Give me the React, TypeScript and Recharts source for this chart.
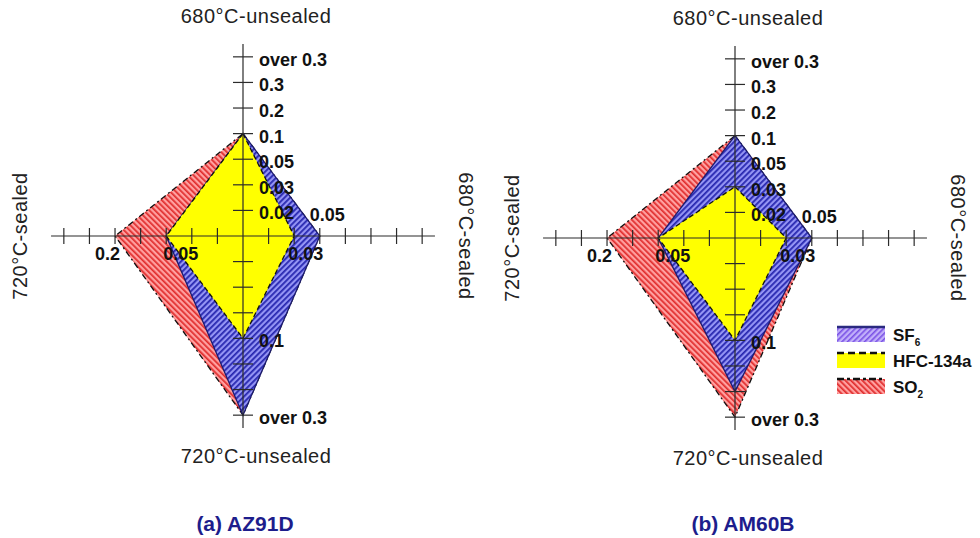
import React from "react";
import { RadarChart, Radar, PolarAngleAxis, PolarRadiusAxis, Legend } from "recharts";

// spokes, clockwise from the top
const axisNames = ["680°C-unsealed", "680°C-sealed", "720°C-unsealed", "720°C-sealed"];

// ordinal scale shared by every spoke (index = steps from the centre)
const levelLabels = ["", "0.02", "0.03", "0.05", "0.1", "0.2", "0.3", "over 0.3"];

// tick labels printed on each spoke
const topLabels = ["0.02", "0.03", "0.05", "0.1", "0.2", "0.3", "over 0.3"];
const rightLabels = ["0.03", "0.05"];
const bottomLabels = ["0.1", "over 0.3"];
const leftLabels = ["0.2", "0.05"];

// (a) AZ91D, one value per spoke in axisNames order
const az91dSF6 = ["0.1", "0.05", "over 0.3", "0.05"];
const az91dHFC = ["0.1", "0.03", "0.1", "0.05"];
const az91dSO2 = ["0.1", "0.05", "over 0.3", "0.2"];

// (b) AM60B
const am60bSF6 = ["0.1", "0.05", "0.3", "0.05"];
const am60bHFC = ["0.03", "0.03", "0.1", "0.05"];
const am60bSO2 = ["0.1", "0.05", "over 0.3", "0.2"];

const AXIS_MAX = 7.5;
const FONT = "'Liberation Sans', Arial, Helvetica, sans-serif";
const INK = "#2b2b2b";

const lvl = (v: string) => levelLabels.indexOf(v);

const buildRows = (sf6: string[], hfc: string[], so2: string[]) =>
  axisNames.map((axis, i) => ({ axis, sf6: lvl(sf6[i]), hfc: lvl(hfc[i]), so2: lvl(so2[i]) }));

const tickLevels = [...levelLabels.map((_, i) => i), AXIS_MAX];

// label nudges for the side spokes
const sideOffsets: Record<string, [number, number]> = {
  "right:0.03": [-6, 24],
  "right:0.05": [-10, -15],
  "left:0.2": [-20, 24],
  "left:0.05": [-3, 24],
};

type Side = "top" | "right" | "bottom" | "left";

const makeTick = (side: Side, shown: string[]) => (props: any) => {
  const { x, y, payload } = props;
  const v = payload?.value;
  if (!Number.isInteger(v) || v < 1) return <g />;
  const label = levelLabels[v];
  const vertical = side === "top" || side === "bottom";
  let text = null;
  if (shown.includes(label)) {
    const [dx, dy] = vertical ? [16, 9] : sideOffsets[`${side}:${label}`] || [0, 0];
    text = (
      <text x={x + dx} y={y + dy} textAnchor="start" fontFamily={FONT} fontWeight="bold" fontSize={18} fill="#111">
        {label}
      </text>
    );
  }
  return (
    <g>
      {vertical ? (
        <line x1={x - 10} y1={y} x2={x + 10} y2={y} stroke={INK} strokeWidth={1.2} />
      ) : (
        <line x1={x} y1={y - 8} x2={x} y2={y + 8} stroke={INK} strokeWidth={1.2} />
      )}
      {text}
    </g>
  );
};

const TitleTick = (props: any) => {
  const { x, y, payload } = props;
  const i = axisNames.indexOf(payload?.value);
  // outward nudge for each spoke title: top, right, bottom, left
  const nudges = [
    [13, -7],
    [10, 0],
    [13, 7],
    [-10, 0],
  ];
  const [dx, dy] = nudges[i] || [0, 0];
  const tx = x + dx;
  const ty = y + dy;
  const rot = i === 1 ? 90 : i === 3 ? -90 : 0;
  return (
    <text
      x={tx}
      y={ty}
      textAnchor="middle"
      dominantBaseline="central"
      transform={rot ? `rotate(${rot} ${tx} ${ty})` : undefined}
      fontFamily={FONT}
      fontSize={20}
      letterSpacing={0.5}
      fill="#222"
    >
      {payload?.value}
    </text>
  );
};

const series = [
  { key: "so2", name: "SO2", fill: "url(#hatchRed)", stroke: "#111", dash: "6 3 2 3" },
  { key: "sf6", name: "SF6", fill: "url(#hatchBlue)", stroke: "#1c1c6e", dash: "" },
  { key: "hfc", name: "HFC-134a", fill: "#ffff00", stroke: "#111", dash: "5 3" },
];

const spokes: { id: string; angle: number; side: Side; shown: string[] }[] = [
  { id: "top", angle: 90, side: "top", shown: topLabels },
  { id: "right", angle: 0, side: "right", shown: rightLabels },
  { id: "bottom", angle: -90, side: "bottom", shown: bottomLabels },
  { id: "left", angle: 180, side: "left", shown: leftLabels },
];

const LegendBox = () => {
  const items = [
    { label: "SF", sub: "6", fill: "url(#hatchBlueLight)", stroke: "#2a2a80", dash: "" },
    { label: "HFC-134a", sub: "", fill: "#ffff00", stroke: "#111", dash: "7 4" },
    { label: "SO", sub: "2", fill: "url(#hatchRed)", stroke: "#111", dash: "7 3 3 3" },
  ];
  return (
    <svg width={150} height={80}>
      {items.map((it, i) => (
        <g key={it.label} transform={`translate(0, ${i * 26})`}>
          <rect x={2} y={2} width={48} height={15} fill={it.fill} />
          <line x1={2} y1={2} x2={50} y2={2} stroke={it.stroke} strokeWidth={2.5} strokeDasharray={it.dash || undefined} />
          <text x={58} y={16} fontFamily={FONT} fontWeight="bold" fontSize={17} fill="#111">
            {it.label}
            {it.sub && (
              <tspan fontSize={10} dy={5}>
                {it.sub}
              </tspan>
            )}
          </text>
        </g>
      ))}
    </svg>
  );
};

function Panel({ rows, left, cx, cy, title, titleX, withLegend }: any) {
  return (
    <div style={{ position: "absolute", left, top: 0, width: 490, height: 538 }}>
      <RadarChart
        width={490}
        height={480}
        data={rows}
        cx={cx}
        cy={cy}
        outerRadius={AXIS_MAX * 27.3}
        startAngle={90}
        endAngle={-270}
        margin={{ top: 0, right: 0, bottom: 0, left: 0 }}
      >
        {series.map((s) => (
          <Radar
            key={s.key}
            radiusAxisId="top"
            dataKey={s.key}
            name={s.name}
            fill={s.fill}
            fillOpacity={1}
            stroke={s.stroke}
            strokeWidth={1.3}
            strokeDasharray={s.dash || undefined}
            dot={false}
            isAnimationActive={false}
          />
        ))}
        {/* invisible series so every spoke axis has something bound to it */}
        {spokes
          .filter((sp) => sp.id !== "top")
          .map((sp) => (
            <Radar
              key={`ghost-${sp.id}`}
              radiusAxisId={sp.id}
              dataKey="hfc"
              fill="none"
              stroke="none"
              legendType="none"
              dot={false}
              isAnimationActive={false}
            />
          ))}
        <PolarAngleAxis dataKey="axis" axisLine={false} tickLine={false} tick={TitleTick} />
        {spokes.map((sp) => (
          <PolarRadiusAxis
            key={sp.id}
            radiusAxisId={sp.id}
            angle={sp.angle}
            type="number"
            domain={[0, AXIS_MAX]}
            ticks={tickLevels}
            axisLine={{ stroke: INK, strokeWidth: 1.2 }}
            tick={makeTick(sp.side, sp.shown)}
          />
        ))}
        {withLegend && (
          <Legend content={LegendBox} wrapperStyle={{ left: 345, top: 325, width: 150, height: 80 }} />
        )}
      </RadarChart>
      <div
        style={{
          position: "absolute",
          left: titleX - 100,
          top: 513,
          width: 200,
          textAlign: "center",
          fontFamily: FONT,
          fontWeight: "bold",
          fontSize: 21,
          lineHeight: "21px",
          color: "#1d1d8c",
        }}
      >
        {title}
      </div>
    </div>
  );
}

export default function App() {
  return (
    <div style={{ position: "absolute", left: 0, top: 0, width: 980, height: 538, background: "#fff", overflow: "hidden" }}>
      <svg width={0} height={0} style={{ position: "absolute" }}>
        <defs>
          <pattern id="hatchBlue" width="4" height="4" patternUnits="userSpaceOnUse" patternTransform="rotate(45)">
            <rect width="4" height="4" fill="#9494f4" />
            <rect width="1.8" height="4" fill="#2828b0" />
          </pattern>
          <pattern id="hatchBlueLight" width="4" height="4" patternUnits="userSpaceOnUse" patternTransform="rotate(45)">
            <rect width="4" height="4" fill="#c2b0fa" />
            <rect width="1.6" height="4" fill="#7a52e6" />
          </pattern>
          <pattern id="hatchRed" width="4" height="4" patternUnits="userSpaceOnUse" patternTransform="rotate(-45)">
            <rect width="4" height="4" fill="#ffa0a0" />
            <rect width="1.7" height="4" fill="#e02c2c" />
          </pattern>
        </defs>
      </svg>
      <Panel rows={buildRows(az91dSF6, az91dHFC, az91dSO2)} left={0} cx={243} cy={236} title="(a) AZ91D" titleX={245} />
      <Panel rows={buildRows(am60bSF6, am60bHFC, am60bSO2)} left={490} cx={245} cy={238} title="(b) AM60B" titleX={253} withLegend />
    </div>
  );
}
